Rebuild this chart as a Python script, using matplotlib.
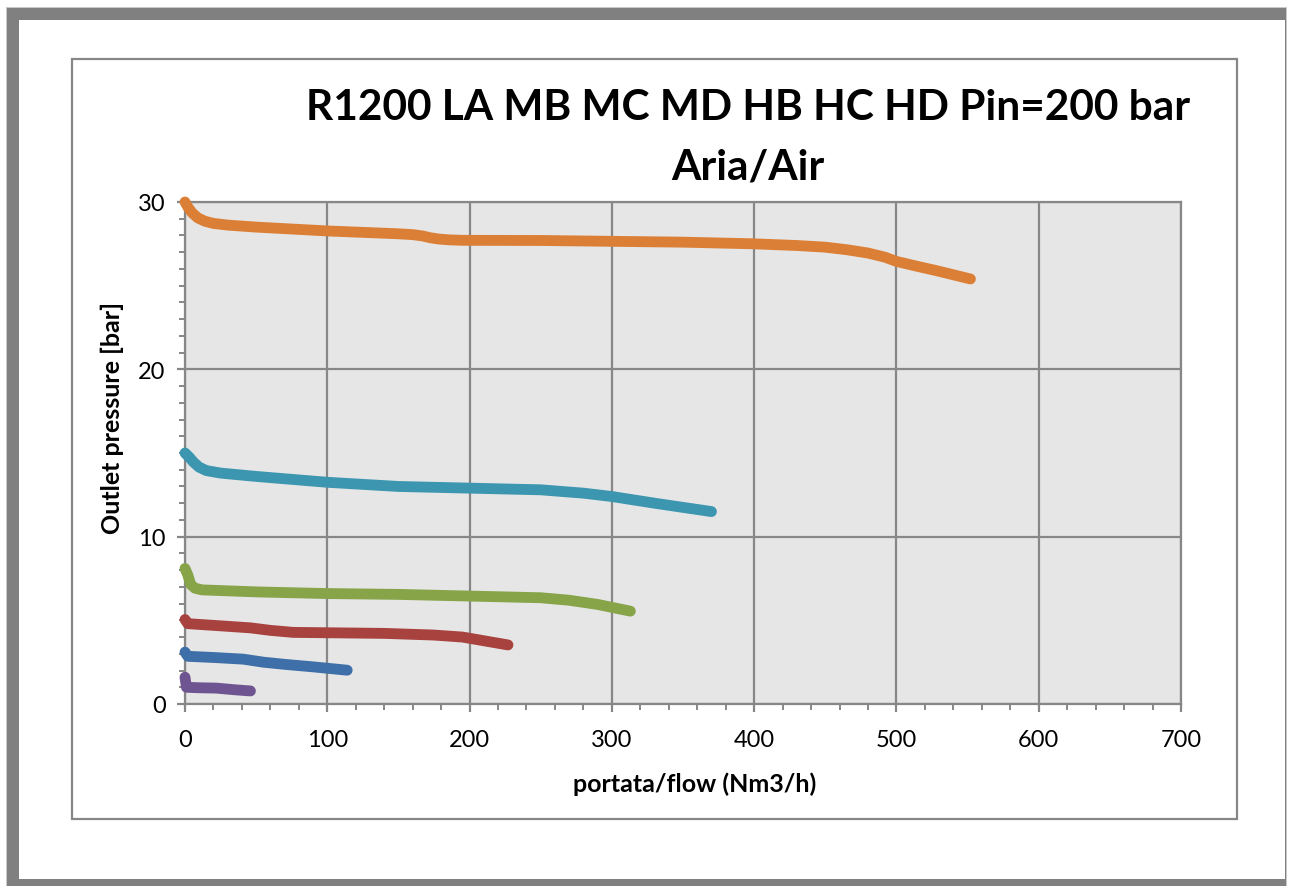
import matplotlib
matplotlib.use("Agg")
import matplotlib.pyplot as plt
from matplotlib.patches import Rectangle
from matplotlib.ticker import MultipleLocator

plt.rcParams["font.family"] = ["Lato", "DejaVu Sans"]

# ===============================
# Data
# ===============================
orange_x = [0, 2, 5, 9, 14, 20, 30, 50, 100, 150, 160, 167, 172, 178, 185, 195, 250, 300, 350, 400, 430, 450, 465, 480, 492, 500, 515, 528, 552]
orange_y = [30, 29.7, 29.35, 29.05, 28.85, 28.72, 28.62, 28.5, 28.27, 28.1, 28.05, 27.97, 27.87, 27.79, 27.74, 27.71, 27.7, 27.65, 27.6, 27.5, 27.4, 27.3, 27.15, 26.95, 26.7, 26.45, 26.15, 25.9, 25.4]

teal_x = [0, 3, 6, 10, 15, 25, 50, 100, 150, 200, 250, 280, 300, 330, 370]
teal_y = [15.0, 14.75, 14.45, 14.15, 13.95, 13.8, 13.6, 13.25, 13.0, 12.9, 12.8, 12.6, 12.4, 12.0, 11.5]

green_x = [0, 2, 4, 7, 12, 50, 100, 150, 200, 250, 270, 290, 313]
green_y = [8.1, 7.7, 7.15, 6.92, 6.82, 6.7, 6.6, 6.55, 6.45, 6.35, 6.2, 5.95, 5.55]

red_x = [0, 2, 20, 46, 60, 76, 140, 175, 195, 210, 227]
red_y = [5.05, 4.8, 4.7, 4.55, 4.4, 4.28, 4.22, 4.12, 4.0, 3.78, 3.53]

blue_x = [0, 2, 20, 41, 55, 70, 90, 114]
blue_y = [3.1, 2.85, 2.78, 2.68, 2.5, 2.37, 2.22, 2.02]

purple_x = [0, 1, 10, 22, 35, 46]
purple_y = [1.6, 1.0, 0.97, 0.95, 0.85, 0.78]

series = [
    (orange_x, orange_y, "#dc7f36"),
    (teal_x, teal_y, "#3c96b0"),
    (green_x, green_y, "#87a448"),
    (red_x, red_y, "#a8423f"),
    (blue_x, blue_y, "#3f6fa8"),
    (purple_x, purple_y, "#6e5490"),
]

title_line1 = "R1200 LA MB MC MD HB HC HD Pin=200 bar"
title_line2 = "Aria/Air"
grid_col = "#878787"

# ===============================
# Figure and frames
# ===============================
W, H = 1289, 887
fig = plt.figure(figsize=(W / 100, H / 100), dpi=100)


def px_rect(x0, y0, x1, y1, **kw):
    # rectangle given in pixel coords (top-left origin)
    r = Rectangle((x0 / W, 1 - y1 / H), (x1 - x0) / W, (y1 - y0) / H,
                  transform=fig.transFigure, zorder=-5, **kw)
    fig.patches.append(r)


# outer grey frame
px_rect(6, 8, 1287, 887, facecolor="#c8c8c8", edgecolor="none")
px_rect(7, 9, 1286, 887, facecolor="#808080", edgecolor="none")
px_rect(19, 21, 1285, 880, facecolor="white", edgecolor="none")
# inner chart border
px_rect(72, 60, 1237, 820, facecolor="none", edgecolor=grid_col, linewidth=1.6)

ax = fig.add_axes([185 / W, 1 - 705 / H, (1181 - 185) / W, (705 - 203) / H])
ax.set_facecolor("#e6e6e6")

for xs, ys, c in series:
    ax.plot(xs, ys, color=c, linewidth=7.8, solid_capstyle="round",
            solid_joinstyle="round", clip_on=False, zorder=3)

ax.set_xlim(0, 700)
ax.set_ylim(0, 30)
ax.xaxis.set_major_locator(MultipleLocator(100))
ax.xaxis.set_minor_locator(MultipleLocator(20))
ax.yaxis.set_major_locator(MultipleLocator(10))
ax.yaxis.set_minor_locator(MultipleLocator(1))

ax.grid(True, which="major", color=grid_col, linewidth=1.6, zorder=1)
ax.set_axisbelow(True)
for sp in ax.spines.values():
    sp.set_color(grid_col)
    sp.set_linewidth(1.6)

ax.tick_params(which="major", length=6, width=1.6, color=grid_col, labelsize=17)
ax.tick_params(which="minor", length=4, width=1.4, color=grid_col)
ax.tick_params(axis="x", which="major", pad=12)
ax.tick_params(axis="y", which="major", pad=8)

ax.set_xlabel("portata/flow (Nm3/h)", fontsize=18, fontweight="bold")
ax.set_ylabel("Outlet pressure [bar]", fontsize=18, fontweight="bold")
ax.xaxis.set_label_coords((695 - 185) / (1181 - 185), -(772 - 705) / (705 - 203))
ax.yaxis.set_label_coords(-(185 - 124) / (1181 - 185), (705 - 418) / (705 - 203))

fig.text(748 / W, 1 - 120 / H, title_line1, ha="center", va="baseline",
         fontsize=30.5, fontweight="bold")
fig.text(748 / W, 1 - 180 / H, title_line2, ha="center", va="baseline",
         fontsize=30.5, fontweight="bold")

fig.savefig("out.png", dpi=100)
